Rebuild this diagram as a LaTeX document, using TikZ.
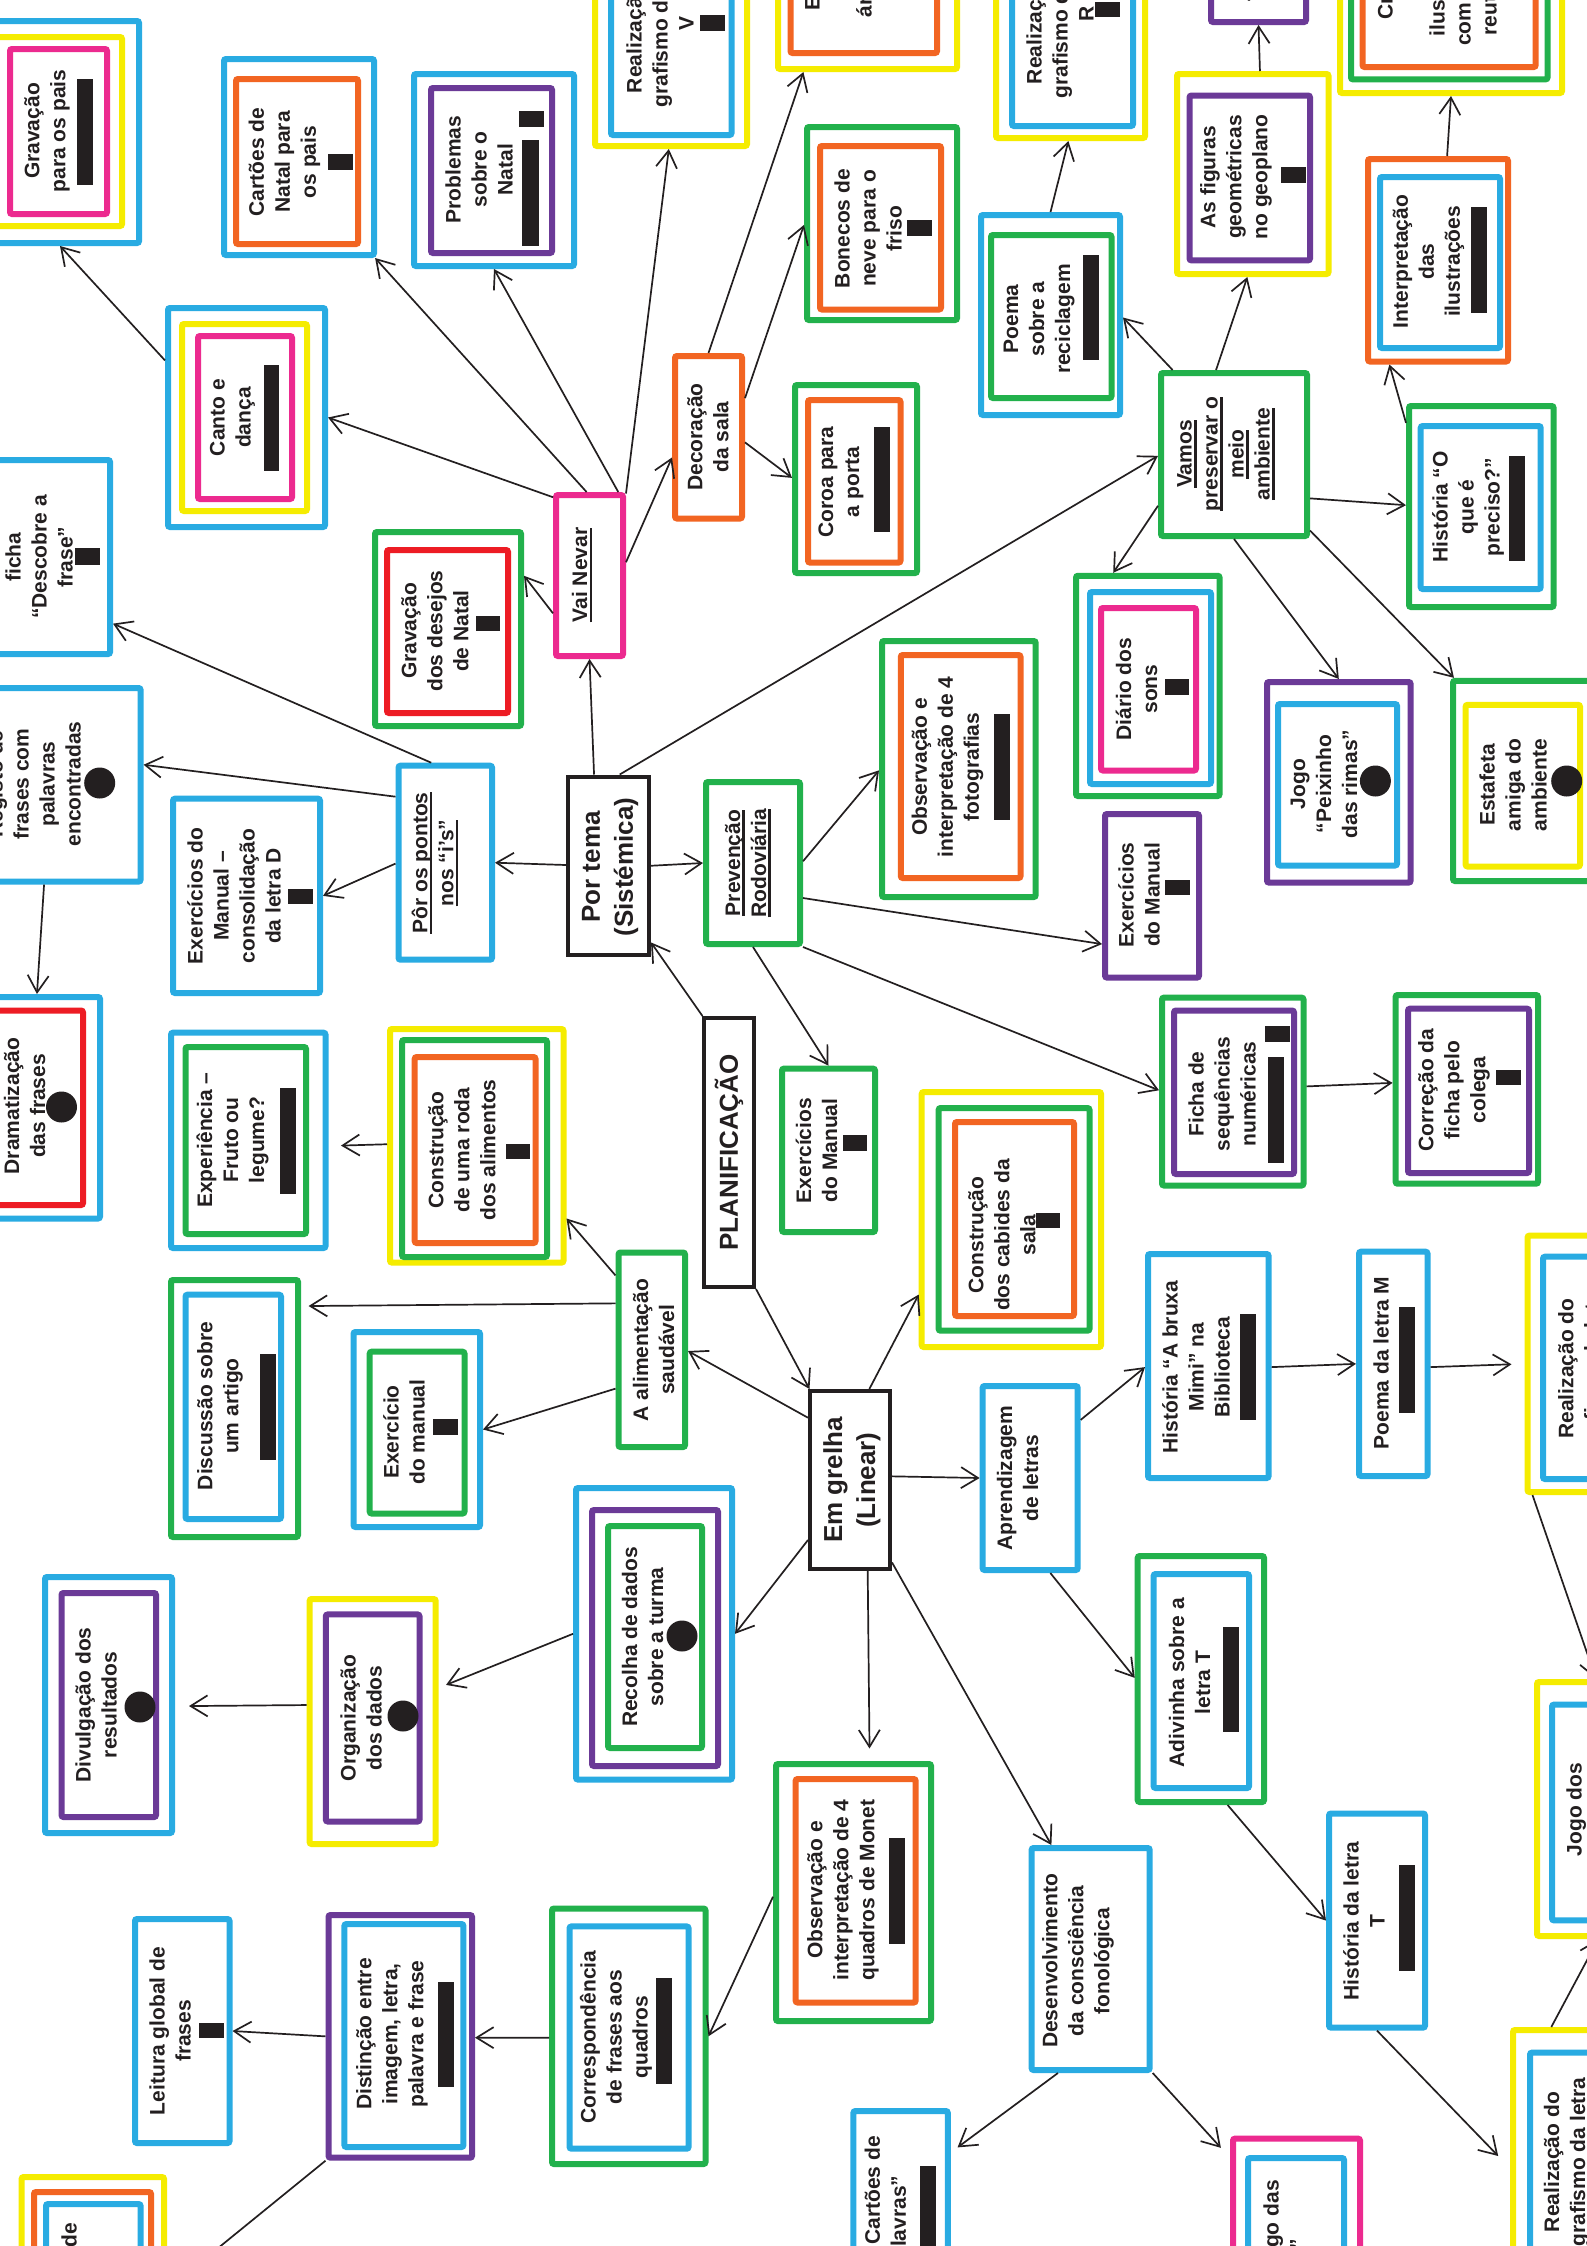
\documentclass[tikz,border=0pt]{standalone}
\usepackage{fontspec}
\setmainfont{Liberation Sans}
\usetikzlibrary{arrows.meta}
\definecolor{cblue}{RGB}{41,171,226}
\definecolor{cyel}{RGB}{245,236,0}
\definecolor{cpink}{RGB}{236,42,143}
\definecolor{corg}{RGB}{242,101,34}
\definecolor{cgrn}{RGB}{34,177,76}
\definecolor{cpur}{RGB}{107,58,151}
\definecolor{cred}{RGB}{237,28,36}
\definecolor{cblk}{RGB}{35,31,32}
\newcommand\Fr[6]{\node[fr=#2, minimum width={#5-(#3)-6}, minimum height={#6-(#4)-6}] (#1) at ({((#3)+(#5))/2},{((#4)+(#6))/2}) {};}
\newcommand\Hb[5]{\node[hub, minimum width={#4-(#2)-4}, minimum height={#5-(#3)-4}] (#1) at ({((#2)+(#4))/2},{((#3)+(#5))/2}) {};}
\newcommand\Bx[4]{\fill[cblk] (#1,#2) rectangle (#3,#4);}
\newcommand\Dt[2]{\fill[cblk] (#1,#2) circle[radius=15.5];}
\newcommand\myul[1]{\setbox0\hbox{#1}\rlap{\rule[-5pt]{\wd0}{2.6pt}}\box0}
\begin{document}
\begin{tikzpicture}[x=1pt,y=-1pt,
  fr/.style={draw=#1, line width=6pt, rounded corners=2pt, inner sep=0pt},
  hub/.style={draw=cblk, line width=4pt, inner sep=0pt},
  txt/.style={rotate=90, align=center, inner sep=0pt, text=cblk, font=\fontsize{21}{26}\selectfont\bfseries},
  big/.style={font=\fontsize{26}{33}\selectfont\bfseries},
  arr/.style={draw=cblk, line width=1.7pt, -{Straight Barb[length=17pt,width=21pt]}}]
\useasboundingbox (0,0) rectangle (1587,2246);
\fill[white] (0,0) rectangle (1587,2246);
% ---------- frames ----------
\Fr{gpais}{cblue}{-22}{18}{142}{246}\Fr{gpais2}{cyel}{-7}{34}{125}{229}\Fr{gpais3}{cpink}{7}{46}{110}{217}
\Fr{cnatal}{cblue}{221}{56}{377}{258}\Fr{cnatal2}{corg}{233}{76}{361}{247}
\Fr{probl}{cblue}{411}{71}{577}{269}\Fr{probl2}{cpur}{428}{85}{555}{256}
\Fr{canto}{cblue}{165}{305}{328}{530}\Fr{canto2}{cyel}{179}{321}{310}{514}\Fr{canto3}{cpink}{195}{333}{295}{502}
\Fr{ficha}{cblue}{-35}{457}{113}{657}
\Fr{gdes}{cgrn}{372}{529}{524}{729}\Fr{gdes2}{cred}{384}{547}{511}{716}
\Fr{realV}{cyel}{592}{-103}{750}{149}\Fr{realV2}{cblue}{608}{-91}{734.5}{138}
\Fr{enf}{cyel}{775}{-150}{960}{72}\Fr{enf2}{corg}{787.5}{-136}{940}{56}
\Fr{realR}{cyel}{993}{-103}{1148}{141}\Fr{realR2}{cblue}{1009}{-91}{1136}{129}
\Fr{bon}{cgrn}{804}{124}{960}{323}\Fr{bon2}{corg}{817}{143}{944}{312.5}
\Fr{decor}{corg}{672}{353}{745}{521.5}
\Fr{coroa}{cgrn}{792}{382}{920}{576}\Fr{coroa2}{corg}{805}{397}{903.5}{565.6}
\Fr{prec}{cblue}{978}{212}{1123}{418}\Fr{prec2}{cgrn}{988}{232}{1114.5}{401}
\Fr{vai}{cpink}{553}{492}{626}{659}
\Fr{topb}{cpur}{1208}{-150}{1309}{25}
\Fr{fig}{cyel}{1174}{71}{1331.5}{277}\Fr{fig2}{cpur}{1186.5}{92.5}{1313}{263.4}
\Fr{cri}{cyel}{1337}{-160}{1565}{96}\Fr{cri2}{cgrn}{1348}{-148}{1550.5}{82.4}\Fr{cri3}{corg}{1359.5}{-136}{1538.7}{70}
\Fr{interp}{corg}{1365}{156}{1511}{364.5}\Fr{interp2}{cblue}{1377}{174}{1503}{351}
\Fr{vamos}{cgrn}{1158}{370}{1310}{539}
\Fr{ohist}{cgrn}{1406}{403}{1556.6}{610}\Fr{ohist2}{cblue}{1417.7}{423}{1543.7}{592}
\Fr{reg}{cblue}{-45}{685}{143.6}{884.6}
\Fr{exD}{cblue}{170}{795.7}{323}{996}
\Fr{por}{cblue}{395.5}{762.7}{495}{962.7}
\Fr{drama}{cblue}{-45}{994}{103}{1221.5}\Fr{drama2}{cred}{-30}{1007.5}{86}{1208}
\Fr{expr}{cblue}{168}{1029.7}{328.5}{1251}\Fr{expr2}{cgrn}{182.5}{1044}{309}{1237}
\Fr{roda}{cyel}{387}{1026}{566.5}{1265.6}\Fr{roda2}{cgrn}{399}{1037}{550}{1260}\Fr{roda3}{corg}{411.7}{1054}{538.5}{1246}
\Hb{portema}{566}{774.5}{651}{957}
\Fr{prev}{cgrn}{703}{779}{803}{947}
\Fr{obsf}{cgrn}{879}{638}{1038.7}{900}\Fr{obsf2}{corg}{897.8}{652}{1023.5}{881}
\Fr{exmg}{cgrn}{779}{1065.6}{878}{1235}
\Fr{diario}{cgrn}{1073}{572.75}{1222.6}{799}\Fr{diario2}{cblue}{1087}{589}{1214}{787}\Fr{diario3}{cpink}{1098}{605}{1199}{773.5}
\Fr{exmp}{cpur}{1102}{811}{1202}{980.6}
\Fr{jogo}{cpur}{1264}{679}{1413.6}{885.6}\Fr{jogo2}{cblue}{1275}{701}{1400}{868.5}
\Fr{est}{cgrn}{1450}{677.8}{1597}{884}\Fr{est2}{cyel}{1462.6}{701.8}{1583}{869.5}
\Fr{fseq}{cgrn}{1159}{994.6}{1306.5}{1188.5}\Fr{fseq2}{cpur}{1171}{1007.5}{1297}{1177}
\Fr{corr}{cgrn}{1392.6}{992}{1541}{1186.7}\Fr{corr2}{cpur}{1405}{1005.7}{1532}{1176}
\Fr{disc}{cgrn}{168}{1277}{301}{1540}\Fr{disc2}{cblue}{182.5}{1291.7}{284}{1522}
\Fr{exm}{cblue}{350.5}{1329}{483}{1530}\Fr{exm2}{cgrn}{366.7}{1348.7}{467.5}{1516.5}
\Fr{divul}{cblue}{42}{1574}{175}{1836}\Fr{divul2}{cpur}{58.5}{1590}{159}{1820}
\Fr{org}{cyel}{306.6}{1596}{438.7}{1847}\Fr{org2}{cpur}{322.8}{1611.4}{422.5}{1824.5}
\Fr{alim}{cgrn}{615.5}{1249.5}{688}{1450}
\Hb{grelha}{808}{1389}{892}{1571}
\Hb{plan}{702}{1016}{756}{1289}
\Fr{cab}{cyel}{918.7}{1089}{1104}{1350}\Fr{cab2}{cgrn}{935.6}{1105}{1092.5}{1333.7}\Fr{cab3}{corg}{952}{1119}{1077}{1319}
\Fr{rec}{cblue}{573}{1485}{735}{1782.6}\Fr{rec2}{cpur}{589}{1507}{721}{1769}\Fr{rec3}{cgrn}{605}{1523}{705}{1751}
\Fr{apr}{cblue}{979.6}{1383}{1080.7}{1573}
\Fr{bruxa}{cblue}{1145}{1251}{1271.6}{1481}
\Fr{poemaM}{cblue}{1356}{1248.7}{1430.5}{1479}
\Fr{realM}{cyel}{1524.5}{1232.6}{1680}{1495}\Fr{realM2}{cblue}{1540}{1253.7}{1665}{1482}
\Fr{adiv}{cgrn}{1134.7}{1553}{1267}{1805}\Fr{adiv2}{cblue}{1150.6}{1571}{1252}{1791}
\Fr{leit}{cblue}{132}{1916}{232.5}{2146}
\Fr{dist}{cpur}{325.5}{1912}{475}{2160.7}\Fr{dist2}{cblue}{341.4}{1921}{466.4}{2150}
\Fr{monet}{cgrn}{773}{1761}{934}{2024}\Fr{monet2}{corg}{792.6}{1776}{918.7}{2005.5}
\Fr{corresp}{cgrn}{549}{1905.5}{708.5}{2167}\Fr{corresp2}{cblue}{566.5}{1923.4}{691.6}{2151.7}
\Fr{desenv}{cblue}{1028.6}{1845}{1152.7}{2073}
\Fr{cart}{cblue}{850.4}{2108}{950.8}{2330}
\Fr{histT}{cblue}{1326}{1810.5}{1428}{2030.6}
\Fr{realT}{cyel}{1510}{2027}{1668}{2290}\Fr{realT2}{cblue}{1527}{2049.6}{1653}{2275}
\Fr{jogod}{cyel}{1534}{1679}{1690}{1939}\Fr{jogod2}{cblue}{1549}{1701.6}{1675}{1923.4}
\Fr{pinkb}{cpink}{1230}{2135.6}{1363}{2420}\Fr{pinkb2}{cblue}{1245}{2155}{1347}{2405}
\Fr{botb}{cyel}{18.6}{2174}{167}{2400}\Fr{botb2}{corg}{31}{2189}{154}{2385}\Fr{botb3}{cblue}{43}{2201}{143.6}{2373}
% ---------- texts ----------
\node[txt] (gpaisT) at (47,131) {Gravação\\para os pais};
\node[txt] (cnatalT) at (284.5,162) {Cartões de\\Natal para\\os pais};
\node[txt] (problT) at (479,169.5) {Problemas\\sobre o\\Natal};
\node[txt] (cantoT) at (232.5,417.5) {Canto e\\dança};
\node[txt] (fichaT) at (39,557) {ficha\\“Descobre a\\frase”};
\node[txt] (gdesT) at (435,631) {Gravação\\dos desejos\\de Natal};
\node[txt] (realVT) at (660,23) {Realização do\\grafismo da letra\\V};
\node[txt] (enfT) at (851,-30) {Enfeites\\da\\árvore de\\Natal};
\node[txt] (realRT) at (1060,14) {Realização do\\grafismo da letra\\R};
\node[txt] (bonT) at (868,228.5) {Bonecos de\\neve para o\\friso};
\node[txt] (decorT) at (708,437) {Decoração\\da sala};
\node[txt] (coroaT) at (841,482) {Coroa para\\a porta};
\node[txt] (precT) at (1039,319) {Poema\\sobre a\\reciclagem};
\node[txt] (vaiT) at (582,575) {\myul{Vai Nevar}};
\node[txt] (topbT) at (1244,-42) {Jogo do\\Tangram};
\node[txt] (figT) at (1236,177) {As figuras\\geométricas\\no geoplano};
\node[txt] (criT) at (1437,-19) {Criação\\de\\ilustrações\\com material\\reutilizável};
\node[txt] (interpT) at (1428.5,261.5) {Interpretação\\das\\ilustrações};
\node[txt] (vamosT) at (1226,454) {\myul{Vamos}\\\myul{preservar o}\\\myul{meio}\\\myul{ambiente}};
\node[txt] (ohistT) at (1468,507) {História “O\\que é\\preciso?”};
\node[txt] (regT) at (34,784) {Registo de\\frases com\\palavras\\encontradas};
\node[txt] (exDT) at (234,896) {Exercícios do\\Manual –\\consolidação\\da letra D};
\node[txt] (porT) at (435,863) {\myul{Pôr os pontos}\\\myul{nos “i’s”}};
\node[txt] (dramaT) at (24.5,1106) {Dramatização\\das frases};
\node[txt] (exprT) at (232.5,1140) {Experiência –\\Fruto ou\\legume?};
\node[txt] (rodaT) at (462,1150) {Construção\\de uma roda\\dos alimentos};
\node[txt,big] (portemaT) at (610,867) {Por tema\\(Sistémica)};
\node[txt] (prevT) at (748,863) {\myul{Prevenção}\\\myul{Rodoviária}};
\node[txt] (obsfT) at (947.6,767) {Observação e\\interpretação de 4\\fotografias};
\node[txt] (exmgT) at (816.5,1150.5) {Exercícios\\do Manual};
\node[txt] (diarioT) at (1136.5,689) {Diário dos\\sons};
\node[txt] (exmpT) at (1139,895) {Exercícios\\do Manual};
\node[txt] (jogoT) at (1324,784) {Jogo\\“Peixinho\\das rimas”};
\node[txt] (estT) at (1513,785) {Estafeta\\amiga do\\ambiente};
\node[txt] (fseqT) at (1222,1094) {Ficha de\\sequências\\numéricas};
\node[txt] (corrT) at (1454,1090) {Correção da\\ficha pelo\\colega};
\node[txt] (discT) at (220,1406) {Discussão sobre\\um artigo};
\node[txt] (exmT) at (404,1432) {Exercício\\do manual};
\node[txt] (divulT) at (96,1705) {Divulgação dos\\resultados};
\node[txt] (orgT) at (361,1718) {Organização\\dos dados};
\node[txt] (alimT) at (653.5,1350) {A alimentação\\saudável};
\node[txt,big] (grelhaT) at (852,1480) {Em grelha\\(Linear)};
\node[txt,big] (planT) at (729,1152.5) {PLANIFICAÇÃO};
\node[txt] (cabT) at (1002,1235) {Construção\\dos cabides da\\sala};
\node[txt] (recT) at (642.5,1637) {Recolha de dados\\sobre a turma};
\node[txt] (aprT) at (1017.5,1478) {Aprendizagem\\de letras};
\node[txt] (bruxaT) at (1196,1367) {História “A bruxa\\Mimi” na\\Biblioteca};
\node[txt] (poemaMT) at (1381,1363) {Poema da letra M};
\node[txt] (realMT) at (1591.7,1368.6) {Realização do\\grafismo da letra\\M};
\node[txt] (adivT) at (1189.5,1682.6) {Adivinha sobre a\\letra T};
\node[txt] (leitT) at (170,2031) {Leitura global de\\frases};
\node[txt] (distT) at (392,2034) {Distinção entre\\imagem, letra,\\palavra e frase};
\node[txt] (monetT) at (843,1890) {Observação e\\interpretação de 4\\quadros de Monet};
\node[txt] (correspT) at (616,2037) {Correspondência\\de frases aos\\quadros};
\node[txt] (desenvT) at (1078,1961) {Desenvolvimento\\da consciência\\fonológica};
\node[txt] (cartT) at (887.4,2223.6) {Jogo “Cartões de\\palavras”};
\node[txt] (histTT) at (1364,1921) {História da letra\\T};
\node[txt] (realTT) at (1577.5,2162) {Realização do\\grafismo da letra\\T};
\node[txt] (jogodT) at (1587,1809.5) {Jogo dos\\sons iniciais};
\node[txt] (pinkbT) at (1284,2280) {Jogo do “Bingo das\\sílabas”};
\node[txt] (botbT) at (82,2296.5) {Construção de\\frases};
% ---------- bars and dots ----------
\Bx{77}{79}{93}{185}
\Bx{328}{154}{353}{170}
\Bx{519}{111}{543.5}{126.5}\Bx{522}{140}{538.5}{245.5}
\Bx{264}{365}{279}{470.6}
\Bx{75}{548}{100}{565}
\Bx{476}{616}{500}{631}
\Bx{700}{15}{725}{30.5}
\Bx{1095}{2}{1119.5}{17}
\Bx{907}{220}{931.5}{235.5}
\Bx{874}{426.5}{890}{532}
\Bx{1083}{255}{1098.6}{360}
\Bx{1281}{166.7}{1306}{182.8}
\Bx{1471}{207}{1487}{312.5}
\Bx{1509}{456}{1525}{561}
\Bx{288}{889}{312.7}{904}
\Bx{280}{1088}{296}{1194}
\Bx{506}{1143.7}{530}{1158.8}
\Bx{994}{714}{1010}{820}
\Bx{842.6}{1134.8}{867}{1151}
\Bx{1164.5}{679}{1189}{694.6}
\Bx{1165}{880}{1189.5}{895}
\Bx{1265}{1026}{1289.5}{1041.6}\Bx{1268}{1056.6}{1284}{1162.7}
\Bx{1496}{1070}{1521}{1085}
\Bx{260}{1354}{276}{1460}
\Bx{433}{1419}{458}{1434.7}
\Bx{1036}{1213}{1060}{1228}
\Bx{1240}{1314}{1256}{1419.7}
\Bx{1399}{1307}{1415}{1412.5}
\Bx{1223}{1626.5}{1239}{1731.7}
\Bx{199}{2022.7}{224}{2038}
\Bx{438}{1981.5}{454}{2087}
\Bx{889}{1838}{904.5}{1944}
\Bx{656}{1978}{672}{2084}
\Bx{1399}{1865}{1415}{1970.7}
\Bx{920}{2166}{935.6}{2272}
\Dt{99.7}{783}\Dt{61.5}{1107}\Dt{1375.4}{781}\Dt{1566.7}{781}\Dt{140}{1707}\Dt{403}{1716}\Dt{682}{1636}
% ---------- connectors ----------
\draw[arr] (canto.145.4) -- (gpais.270.5);
\draw[arr] (vai.115.5) -- (canto.0);
\draw[arr] (vai.92.4) -- (cnatal.307.1);
\draw[arr] (vai.71.15) -- (probl.270.3);
\draw[arr] (vai.66.4) -- (realV.269.6);
\draw[arr] (vai.20.3) -- (decor.209.9);
\draw[arr] (vai.226.5) -- (gdes.35.9);
\draw[arr] (decor.90.3) -- (enf.240.75);
\draw[arr] (decor.47.6) -- (bon.181.9);
\draw[arr] (decor.352.2) -- (coroa.179.1);
\draw[arr] (prec.90.6) -- (realR.269.8);
\draw[arr] (fig.86.5) -- (topb.270.3);
\draw[arr] (interp.85.6) -- (cri.270);
\draw[arr] (ohist.132.25) -- (interp.245.1);
\draw[arr] (vamos.126.6) -- (prec.358.8);
\draw[arr] (vamos.102) -- (fig.267.7);
\draw[arr] (vamos.330.2) -- (ohist.179.6);
\draw[arr] (vamos.214.6) -- (diario.107.1);
\draw[arr] (vamos.270.3) -- (jogo.90.7);
\draw[arr] (vamos.315) -- (est.124.1);
\draw[arr] (portema.83.1) -- (vamos.181.1);
\draw[arr] (portema.99.9) -- (vai.270.3);
\draw[arr] (portema.179) -- (por.0.8);
\draw[arr] (portema.0.2) -- (prev.180);
\draw[arr] (plan.101.2) -- (portema.299.7);
\draw[arr] (plan.south east) -- (grelha.114.4);
\draw[arr] (prev.2.3) -- (obsf.181.4);
\draw[arr] (prev.325) -- (exmp.224.3);
\draw[arr] (prev.south east) -- (fseq.179.3);
\draw[arr] (prev.south) -- (exmg.90.7);
\draw[arr] (fseq.4.3) -- (corr.175.8);
\draw[arr] (por.98.3) -- (ficha.318.2);
\draw[arr] (por.127.3) -- (reg.12.1);
\draw[arr] (por.181.5) -- (exD.0.6);
\draw[arr] (reg.267) -- (drama.86);
\draw[arr, shorten >=12.5pt] (roda.179.8) -- (expr.356.3);
\draw[arr] (alim.116.2) -- (roda.321.9);
\draw[arr, shorten >=7.6pt] (alim.128.4) -- (disc.57.5);
\draw[arr] (alim.227.3) -- (exm.0.7);
\draw[arr] (grelha.124.9) -- (alim.358);
\draw[arr] (grelha.78.2) -- (cab.219.2);
\draw[arr] (grelha.5.4) -- (apr.180);
\draw[arr] (grelha.235) -- (rec.0.5);
\draw[arr, shorten >=12.5pt] (grelha.281.8) -- (monet.83.3);
\draw[arr] (grelha.297.8) -- (desenv.109.8);
\draw[arr, shorten >=7.9pt] (rec.180.6) -- (org.27);
\draw[arr, shorten >=14pt] (org.166.8) -- (divul.359.1);
\draw[arr] (apr.49.9) -- (bruxa.181.5);
\draw[arr] (apr.282.1) -- (adiv.179);
\draw[arr] (bruxa.359.1) -- (poemaM.180);
\draw[arr, shorten >=13pt] (poemaM.355.8) -- (realM.180);
\draw[arr] (realM.242.5) -- (jogod.97.5);
\draw[arr] (adiv.282) -- (histT.180);
\draw[arr, shorten >=17pt] (histT.270) -- (realT.187.1);
\draw[arr] (realT.106.9) -- (jogod.264.7);
\draw[arr, shorten >=8.4pt] (desenv.254) -- (cart.53.6);
\draw[arr, shorten >=13.5pt] (desenv.south east) -- (pinkb.119.8);
\draw[arr] (monet.183.9) -- (corresp.0.9);
\draw[arr] (corresp.181.1) -- (dist.359.5);
\draw[arr] (dist.180.5) -- (leit.0);
\draw[arr] (dist.south west) -- (botb.358.5);
\end{tikzpicture}
\end{document}
